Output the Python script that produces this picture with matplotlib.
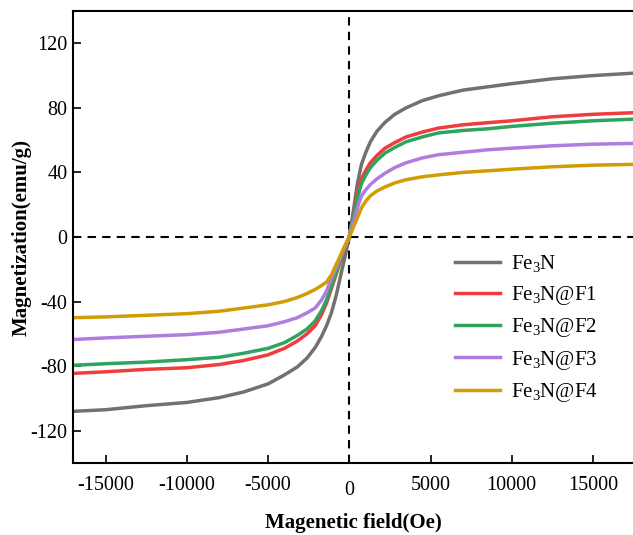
import matplotlib
matplotlib.use("Agg")
import matplotlib.pyplot as plt
import matplotlib.transforms as mtransforms

plt.rcParams['font.family'] = ['Liberation Serif', 'DejaVu Serif']
plt.rcParams['mathtext.default'] = 'regular'
plt.rcParams['axes.unicode_minus'] = False

# field points (Oe)
field = [-17000, -15000, -12500, -10000, -8000, -6500, -5000, -4000, -3200, -2600,
         -2100, -1700, -1400, -1100, -800, -500, -250, 0,
         250, 500, 750, 1000, 1300, 1700, 2200, 2800, 3500, 4500, 5500, 7000,
         8500, 10000, 12500, 15000, 17500]

# magnetization (emu/g)
m_fe3n = [-108, -107, -104.5, -102.5, -99.5, -96, -91, -85.5, -80.5, -75,
          -68.5, -61.5, -55, -47, -36, -22.5, -11.5, 0,
          16, 33, 45, 52, 59, 65.5, 71, 76, 80, 84.5, 87.5, 91,
          93, 95, 98, 100, 101.5]
m_f1 = [-84.5, -83.5, -82, -81, -79, -76.5, -73, -69, -64.5, -60,
        -55, -48, -41, -32, -23, -13.5, -6.5, 0,
        13, 27, 36, 41, 46, 50.5, 55, 58.5, 62, 65, 67.5, 69.5,
        70.8, 72, 74.5, 76, 77]
m_f2 = [-79.5, -78.5, -77.5, -76, -74.5, -72, -69, -65.5, -61, -57,
        -52, -45.5, -39, -30.5, -22, -13, -6, 0,
        12, 24, 33, 38, 43, 47.5, 52, 55.5, 59, 62, 64.5, 66,
        67, 68.5, 70.5, 72, 73]
m_f3 = [-63.5, -62.5, -61.5, -60.5, -59, -57, -55, -52.5, -50, -47,
        -44, -39, -33.5, -26, -19, -11.5, -5.5, 0,
        9, 18, 25.5, 29, 32.5, 36, 39.5, 43, 46, 49, 51, 52.5,
        54, 55, 56.5, 57.5, 58]
m_f4 = [-50, -49.5, -48.5, -47.5, -46, -44, -42, -40, -37.5, -35,
        -32.5, -30, -28, -23.5, -17, -10.5, -5, 0,
        6, 12, 18, 22, 25.5, 28.5, 31, 33.5, 35.5, 37.3, 38.5, 40,
        41, 42, 43.5, 44.5, 45]

labels = ['Fe$_3$N', 'Fe$_3$N@F1', 'Fe$_3$N@F2', 'Fe$_3$N@F3', 'Fe$_3$N@F4']
colors = ['#717171', '#f03c3c', '#2ea45e', '#b07ce0', '#d19c04']
series = [m_fe3n, m_f1, m_f2, m_f3, m_f4]

fig = plt.figure(figsize=(6.33, 5.35), dpi=100)
ax = fig.add_axes([73 / 633, 1 - 463 / 535, 1 - 73 / 633, 452 / 535])

ax.axhline(0, color='black', linestyle=(0, (4, 3)), linewidth=1.5, zorder=1)
ax.axvline(0, color='black', linestyle=(0, (4, 3)), linewidth=1.5, zorder=1)

for m, c, lab in zip(series, colors, labels):
    ax.plot(field, m, color=c, linewidth=2.5, label=lab, zorder=2,
            solid_joinstyle='round')

ax.set_xlim(-17000, 17460)
ax.set_ylim(-140, 140)
ax.set_xticks([-15000, -10000, -5000, 0, 5000, 10000, 15000])
ax.set_yticks([-120, -80, -40, 0, 40, 80, 120])

for s in ['left', 'bottom', 'top']:
    ax.spines[s].set_linewidth(1.5)
ax.spines['right'].set_visible(False)

ax.tick_params(direction='in', length=6, width=1.2, labelsize=14.5)
ax.tick_params(axis='x', pad=9)
ax.tick_params(axis='y', pad=4)

# the zero label sits a little lower in the original
for t in ax.get_xticklabels():
    if t.get_text() == '0':
        t.set_transform(t.get_transform() + mtransforms.ScaledTranslation(0, -4 / 72, fig.dpi_scale_trans))

ax.set_xlabel('Magenetic field(Oe)', fontsize=15, fontweight='bold', labelpad=9)
ax.set_ylabel('Magnetization(emu/g)', fontsize=15, fontweight='bold', labelpad=-1)

ax.legend(loc='upper left', bbox_to_anchor=(0.648, 0.505), frameon=False,
          fontsize=15, handlelength=2.2, handletextpad=0.5, labelspacing=0.45)

fig.savefig('out.png', dpi=100)
